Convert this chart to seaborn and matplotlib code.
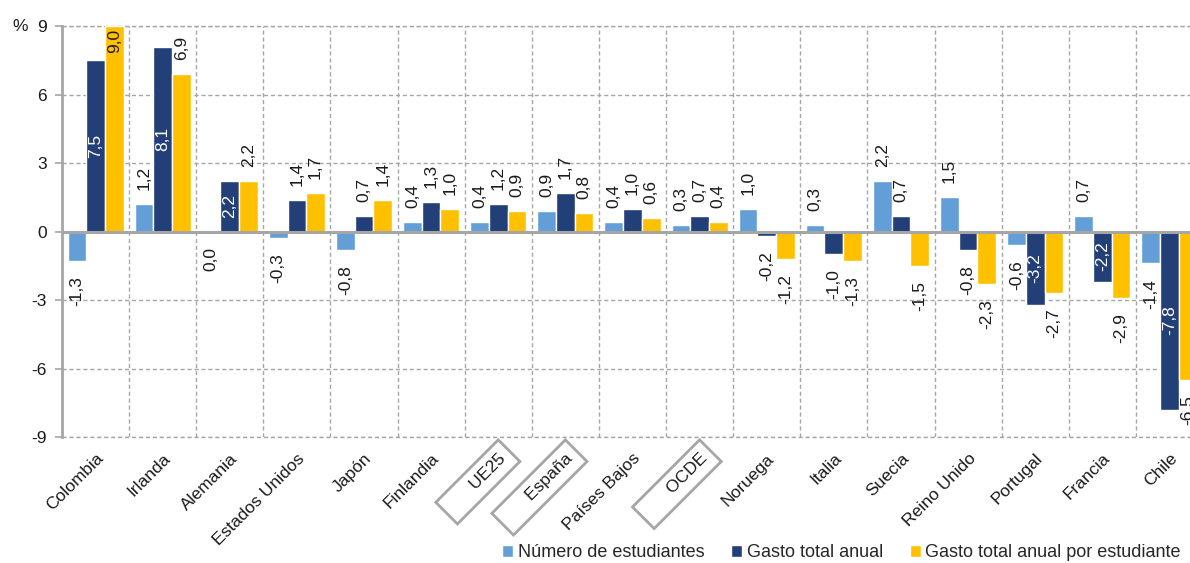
import numpy as np
import pandas as pd
import matplotlib
matplotlib.use("Agg")
import matplotlib.pyplot as plt
import seaborn as sns

# datos (variación %, lectura del gráfico)
paises = ["Colombia", "Irlanda", "Alemania", "Estados Unidos", "Japón", "Finlandia",
          "UE25", "España", "Países Bajos", "OCDE", "Noruega", "Italia", "Suecia",
          "Reino Unido", "Portugal", "Francia", "Chile"]
num_estudiantes = [-1.3, 1.2, 0.0, -0.3, -0.8, 0.4, 0.4, 0.9, 0.4, 0.3, 1.0, 0.3, 2.2, 1.5, -0.6, 0.7, -1.4]
gasto_total = [7.5, 8.1, 2.2, 1.4, 0.7, 1.3, 1.2, 1.7, 1.0, 0.7, -0.2, -1.0, 0.7, -0.8, -3.2, -2.2, -7.8]
gasto_por_est = [9.0, 6.9, 2.2, 1.7, 1.4, 1.0, 0.9, 0.8, 0.6, 0.4, -1.2, -1.3, -1.5, -2.3, -2.7, -2.9, -6.5]
series = ["Número de estudiantes", "Gasto total anual", "Gasto total anual por estudiante"]
destacados = ["UE25", "España", "OCDE"]
y_ticks = [-9, -6, -3, 0, 3, 6, 9]

colores = ["#639FD6", "#223F77", "#FFC000"]
gris = "#A6A6A6"

# etiquetas dentro de la barra: centradas (texto blanco) y en el extremo
dentro_centro = [("Colombia", 1), ("Irlanda", 1), ("Alemania", 1),
                 ("Portugal", 1), ("Francia", 1), ("Chile", 1)]
dentro_extremo = [("Colombia", 2)]

df = pd.DataFrame({"pais": paises, series[0]: num_estudiantes,
                   series[1]: gasto_total, series[2]: gasto_por_est})
df = df.melt(id_vars="pais", var_name="serie", value_name="valor")

sns.set_theme(style="white")
plt.rcParams["font.family"] = ["Liberation Sans", "DejaVu Sans"]

fig = plt.figure(figsize=(11.9, 5.63), dpi=100)
ax = fig.add_axes([0.0521, 0.2238, 0.9588, 0.730])

sns.barplot(data=df, x="pais", y="valor", hue="serie", order=paises, hue_order=series,
            palette=colores, saturation=1, width=0.835, gap=0, errorbar=None, ax=ax)

for i, cont in enumerate(ax.containers):
    vals = df[df["serie"] == series[i]].set_index("pais").loc[paises, "valor"].values
    for pais, rect, v in zip(paises, cont, vals):
        x = rect.get_x() + rect.get_width() / 2
        txt = f"{v:.1f}".replace(".", ",")
        if (pais, i) in dentro_centro:
            ax.text(x, v / 2, txt, rotation=90, ha="center", va="center",
                    color="white", fontsize=12.5)
        elif (pais, i) in dentro_extremo:
            ax.annotate(txt, (x, v), xytext=(0, -2), textcoords="offset points",
                        rotation=90, ha="center", va="top", fontsize=12.5, color="#1a1a1a")
        elif v > 0:
            ax.annotate(txt, (x, v), xytext=(0, 10), textcoords="offset points",
                        rotation=90, ha="center", va="bottom", fontsize=12.5, color="#1a1a1a")
        else:
            ax.annotate(txt, (x, v), xytext=(0, -11), textcoords="offset points",
                        rotation=90, ha="center", va="top", fontsize=12.5, color="#1a1a1a",
                        annotation_clip=False)

ax.set_xlim(-0.5, len(paises) - 0.5)
ax.set_ylim(-9, 9)
ax.set_yticks(y_ticks)
ax.set_yticklabels([str(t) for t in y_ticks], fontsize=12.5, color="#1a1a1a")
ax.set_xticks(range(len(paises)))
etiquetas = [("      " + p) if p in destacados else p for p in paises]
ax.set_xticklabels(etiquetas, rotation=45, ha="right", rotation_mode="anchor",
                   fontsize=12.5, color="#1a1a1a")
for lab in ax.get_xticklabels():
    if lab.get_text().strip() in destacados:
        lab.set_bbox(dict(boxstyle="square,pad=0.45", fc="none", ec=gris, lw=2))
ax.set_xticks(np.arange(-0.5, len(paises), 1), minor=True)
ax.tick_params(axis="x", which="both", length=0, pad=10)
ax.tick_params(axis="y", length=5, width=1.2, color=gris, pad=6, left=True)
ax.set_xlabel("")
ax.set_ylabel("")

ax.set_axisbelow(True)
ax.yaxis.grid(True, linestyle=(0, (3, 2)), color=gris, lw=1)
ax.xaxis.grid(True, which="minor", linestyle=(0, (3, 2)), color=gris, lw=1)
ax.xaxis.grid(False, which="major")
for yl in (y_ticks[0], y_ticks[-1]):
    ax.axhline(yl, linestyle=(0, (3, 2)), color=gris, lw=1, clip_on=False, zorder=0.5)
for s in ["top", "right", "bottom"]:
    ax.spines[s].set_visible(False)
ax.spines["left"].set_color(gris)
ax.spines["left"].set_linewidth(2)
ax.axhline(0, color=gris, lw=2.2, zorder=1.5)

ax.text(-0.030, 1.0, "%", transform=ax.transAxes, ha="right", va="center",
        fontsize=12.5, color="#1a1a1a")

handles, labels = ax.get_legend_handles_labels()
ax.get_legend().remove()
fig.legend(handles, labels, loc="lower right", bbox_to_anchor=(1.006, -0.026), ncol=3,
           frameon=False, fontsize=13, handlelength=0.6, handleheight=0.6,
           handletextpad=0.25, columnspacing=1.5)

fig.savefig("out.png", dpi=100)
